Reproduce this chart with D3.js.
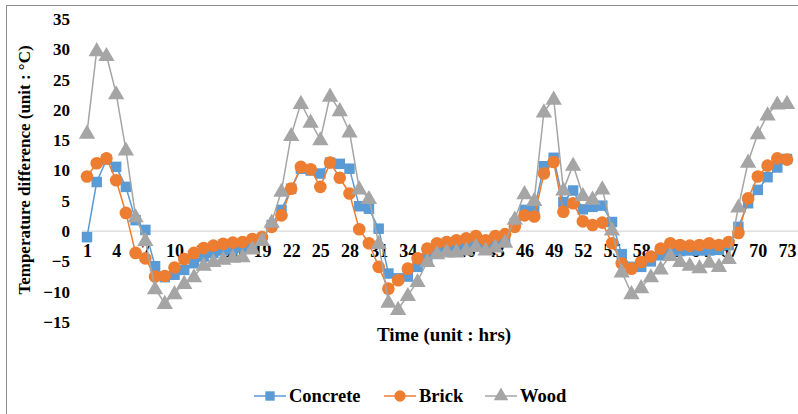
<!DOCTYPE html>
<html><head><meta charset="utf-8">
<script src="https://cdn.jsdelivr.net/npm/d3@7"></script>
<style>
html,body{margin:0;padding:0;background:#fff;}
svg{display:block;}
text{font-family:"Liberation Serif","Times New Roman",serif;font-weight:bold;fill:#000;}
</style></head>
<body><svg id="c" width="798" height="414"></svg>
<script>
const hours = d3.range(1, 74);
const xTickValues = d3.range(1, 74, 3);
const yTickValues = [-15, -10, -5, 0, 5, 10, 15, 20, 25, 30, 35];
const seriesNames = ["Concrete", "Brick", "Wood"];
const seriesColors = ["#5b9bd5", "#ed7d31", "#a5a5a5"];

const concrete = [
-1.0, 8.1, 11.8, 10.6, 7.3, 1.8, 0.2, -5.8, -7.6, -7.2,
-6.4, -5.3, -4.2, -3.6, -3.2, -3.0, -2.7, -2.0, -1.3, 1.0,
3.5, 7.0, 10.3, 10.0, 9.5, 11.3, 11.1, 10.3, 4.1, 3.7,
0.4, -7.0, -7.8, -7.5, -5.9, -4.5, -3.3, -2.7, -2.4, -2.1,
-1.8, -2.0, -1.6, -1.5, 1.3, 3.5, 3.5, 10.7, 12.1, 4.8,
6.7, 3.6, 4.0, 4.2, 1.5, -3.8, -5.9, -5.9, -5.0, -4.0,
-3.2, -3.3, -3.2, -3.2, -3.2, -3.1, -2.3, 0.7, 4.6, 6.8,
8.9, 10.5, 11.9];

const brick = [
9.0, 11.2, 12.0, 8.4, 3.0, -3.6, -4.5, -7.5, -7.4, -6.0,
-4.6, -3.6, -2.8, -2.4, -2.1, -1.9, -1.8, -1.3, -1.0, 0.7,
2.6, 7.0, 10.6, 10.2, 7.3, 11.3, 8.8, 6.2, 0.3, -2.0,
-5.9, -9.5, -8.1, -6.2, -4.5, -2.9, -2.0, -1.8, -1.5, -1.2,
-0.8, -1.5, -0.8, -0.5, 0.7, 2.6, 2.4, 9.5, 11.4, 3.2,
4.6, 1.6, 1.0, 1.4, -2.0, -5.3, -6.2, -5.1, -4.2, -2.9,
-2.0, -2.3, -2.4, -2.3, -2.0, -2.3, -1.8, -0.3, 5.4, 9.0,
10.8, 12.0, 11.8];

const wood = [
16.2, 29.8, 29.0, 22.7, 13.4, 2.4, -1.5, -9.5, -11.9, -10.3,
-8.6, -7.5, -5.6, -5.0, -4.6, -4.3, -4.2, -2.9, -1.5, 1.5,
6.6, 15.8, 21.1, 18.0, 15.1, 22.3, 19.9, 16.4, 7.0, 5.4,
-2.0, -11.7, -12.9, -10.6, -8.3, -5.0, -3.7, -3.4, -3.4, -3.1,
-2.5, -3.1, -2.6, -1.8, 2.0, 6.2, 5.1, 19.7, 21.8, 6.8,
10.9, 5.9, 5.3, 7.0, 0.2, -6.7, -10.3, -9.3, -7.5, -6.2,
-4.0, -5.0, -5.6, -6.0, -5.1, -5.8, -4.5, 4.0, 11.4, 16.1,
19.2, 21.0, 21.1];

const seriesValues = [concrete, brick, wood];

const svg = d3.select("#c");
// outer chart border
svg.append("rect").attr("x", 6.5).attr("y", 5.5).attr("width", 900).attr("height", 600)
  .attr("fill", "none").attr("stroke", "#8c8c8c").attr("stroke-width", 1);

const x = d3.scaleLinear().domain([1, 73]).range([87, 787]);
const y = d3.scaleLinear().domain([-15, 35]).range([322, 19]);

// zero line
svg.append("line").attr("x1", 82).attr("x2", 798).attr("y1", y(0)).attr("y2", y(0))
  .attr("stroke", "#d9d9d9").attr("stroke-width", 1.2);

// y axis labels
const yAxis = d3.axisLeft(y).tickValues(yTickValues).tickSize(0).tickPadding(0);
const gy = svg.append("g").attr("transform", "translate(70,0)").call(yAxis);
gy.select(".domain").remove();
gy.selectAll("text").style("font-size", "17px").style("font-family", "Liberation Serif").style("font-weight", "bold").attr("fill", "#000");

// x axis labels
const xAxis = d3.axisBottom(x).tickValues(xTickValues).tickSize(0).tickPadding(13);
const gx = svg.append("g").attr("transform", `translate(0,${y(0)})`).call(xAxis);
gx.select(".domain").remove();
gx.selectAll("text").style("font-size", "18px").style("font-family", "Liberation Serif").style("font-weight", "bold").attr("fill", "#000");

// axis titles
svg.append("text").attr("transform", "translate(30,170) rotate(-90)")
  .attr("text-anchor", "middle").style("font-size", "17px").text("Temperature difference (unit : °C)");
svg.append("text").attr("x", 444).attr("y", 341).attr("text-anchor", "middle")
  .style("font-size", "19px").text("Time (unit : hrs)");

const sym = [d3.symbolSquare, d3.symbolCircle, d3.symbolTriangle];
const symSize = [110, 125, 115];

const line = d3.line().x((d, i) => x(hours[i])).y(d => y(d));
seriesValues.forEach((vals, si) => {
  const g = svg.append("g");
  g.append("path").datum(vals).attr("d", line).attr("fill", "none")
    .attr("stroke", seriesColors[si]).attr("stroke-width", 1.5);
  g.selectAll("path.m").data(vals).enter().append("path").attr("class", "m")
    .attr("transform", (d, i) => `translate(${x(hours[i])},${y(d) + (si === 2 ? 1 : 0)})`)
    .attr("d", d3.symbol().type(sym[si]).size(symSize[si]))
    .attr("fill", seriesColors[si]);
});

// legend
const legendX = [254, 384, 485];
seriesNames.forEach((name, si) => {
  const g = svg.append("g").attr("transform", `translate(${legendX[si]},396)`);
  g.append("line").attr("x1", 0).attr("x2", 32).attr("y1", 0).attr("y2", 0)
    .attr("stroke", seriesColors[si]).attr("stroke-width", 1.5);
  g.append("path").attr("transform", "translate(16,0)")
    .attr("d", d3.symbol().type(sym[si]).size(symSize[si] * 0.8)).attr("fill", seriesColors[si]);
  g.append("text").attr("x", 35).attr("y", 6).style("font-size", "18.5px").text(name);
});
</script></body></html>
